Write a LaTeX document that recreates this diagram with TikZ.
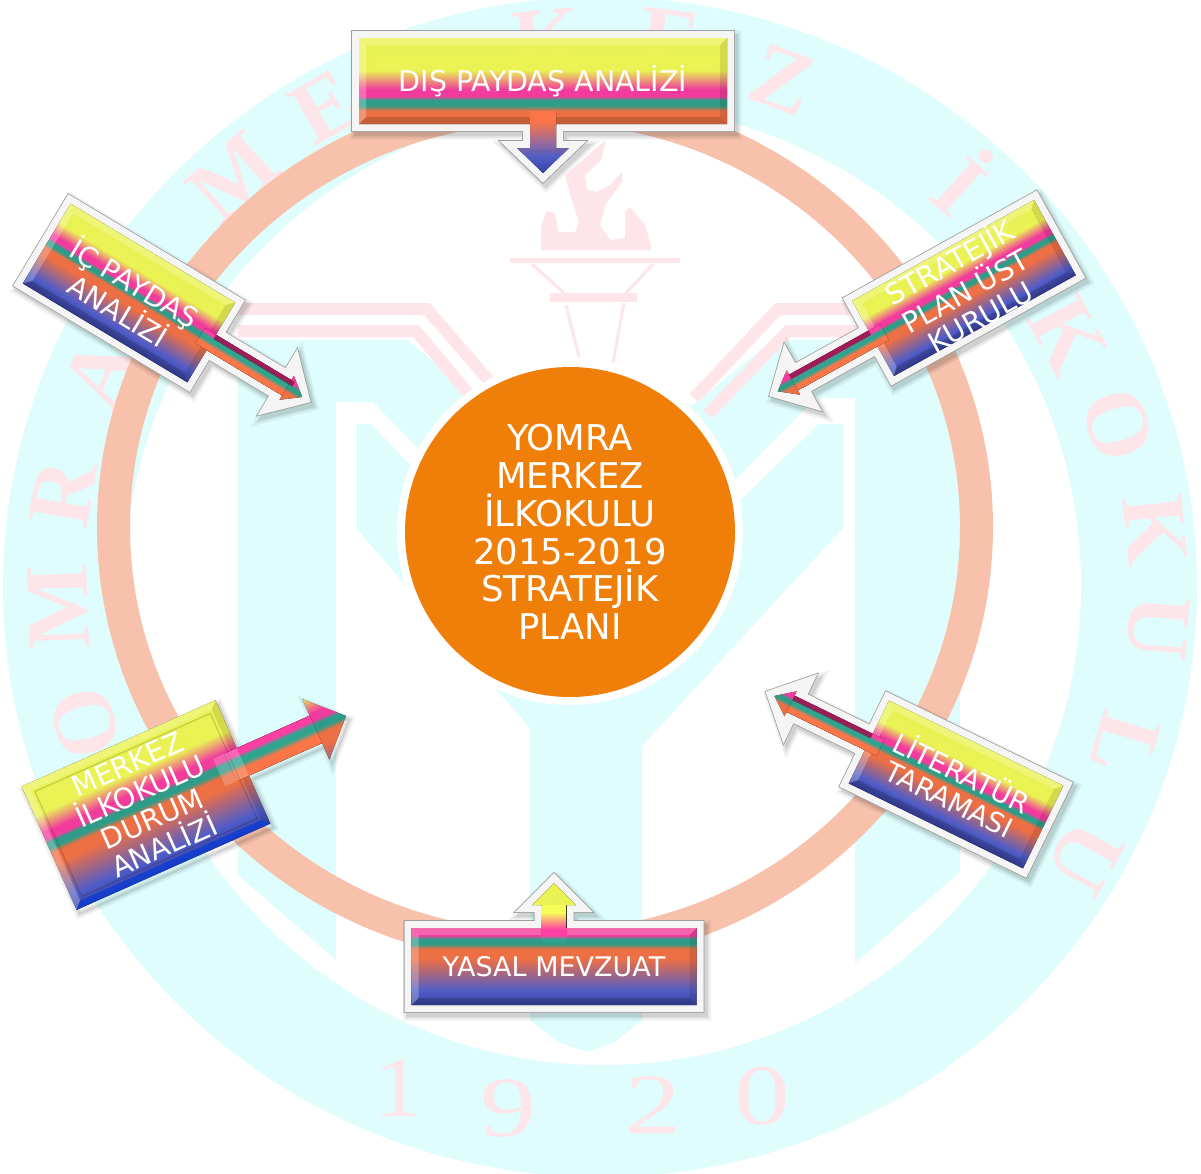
\documentclass[tikz,border=0pt]{standalone}
\usepackage{fontspec}
\usepackage{graphicx}
\setmainfont{DejaVu Sans}
\newfontfamily\wmfont{Liberation Serif}
\definecolor{wcyan}{HTML}{DFFDFD}
\definecolor{wpink}{HTML}{FDE5E9}
\definecolor{ringc}{HTML}{F7C1AB}
\definecolor{orangec}{HTML}{F07F09}
\definecolor{gyel}{HTML}{F6FF58}
\definecolor{gpink}{HTML}{FF3EA4}
\definecolor{gteal}{HTML}{2FA590}
\definecolor{gorange}{HTML}{FA7548}
\definecolor{gblue}{HTML}{5562D2}
\definecolor{gblued}{HTML}{3A46A8}
\pgfdeclareverticalshading{rainbow}{100bp}{
 color(0bp)=(gblued); color(25bp)=(gblued); color(31bp)=(gblue);
 color(44bp)=(gorange); color(48bp)=(gorange); color(50bp)=(gteal);
 color(52bp)=(gteal); color(53.5bp)=(gpink); color(56bp)=(gpink);
 color(63bp)=(gyel); color(100bp)=(gyel)}
\tikzset{
 signtext/.style={text=white,align=center,inner sep=0pt},
 wmletter/.style={text=wpink,inner sep=0pt,font=\wmfont\bfseries\fontsize{90}{90}\selectfont},
 wmdigit/.style={text=wpink,inner sep=0pt,font=\wmfont\fontsize{86}{86}\selectfont},
 wmband/.style={draw=wpink,line width=12pt,miter limit=6},
 wmthin/.style={draw=wpink,line width=3pt},
 facefill/.style={shading=rainbow,shading angle=0},
 shaftdark/.style={fill=purple!45!black,opacity=.55},
}
% horizontal callout: half width, half height, side, arrow length, head length, head half width, shaft half width
\newcommand\setH[7]{%
 \def\calloutpath{({-(#3)*(#1)},{-(#2)}) -- ({(#3)*(#1)},{-(#2)}) -- ({(#3)*(#1)},{-(#7)})
  -- ({(#3)*(#1+#4-#5)},{-(#7)}) -- ({(#3)*(#1+#4-#5)},{-(#6)}) -- ({(#3)*(#1+#4)},0)
  -- ({(#3)*(#1+#4-#5)},{#6}) -- ({(#3)*(#1+#4-#5)},{#7}) -- ({(#3)*(#1)},{#7})
  -- ({(#3)*(#1)},{#2}) -- ({-(#3)*(#1)},{#2}) -- cycle}%
 \def\shaftpath{({(#3)*(#1-13)},{-(#7)}) rectangle ({(#3)*(#1+#4-#5)},{#7})}%
 \def\hw{#1}\def\hh{#2}}
% vertical callout
\newcommand\setV[7]{%
 \def\calloutpath{({-(#1)},{-(#3)*(#2)}) -- ({#1},{-(#3)*(#2)}) -- ({#1},{(#3)*(#2)})
  -- ({#7},{(#3)*(#2)}) -- ({#7},{(#3)*(#2+#4-#5)}) -- ({#6},{(#3)*(#2+#4-#5)}) -- (0,{(#3)*(#2+#4)})
  -- ({-(#6)},{(#3)*(#2+#4-#5)}) -- ({-(#7)},{(#3)*(#2+#4-#5)}) -- ({-(#7)},{(#3)*(#2)})
  -- ({-(#1)},{(#3)*(#2)}) -- cycle}%
 \def\shaftpath{({-(#7)},{(#3)*(#2-13)}) rectangle ({#7},{(#3)*(#2+#4-#5)})}%
 \def\hw{#1}\def\hh{#2}}
% frame and shadow of the current callout: frame half width, angle
\newcommand\drawframe[2]{%
 \pgfmathsetmacro\su{3*cos(#2)-4*sin(#2)}%
 \pgfmathsetmacro\sv{3*sin(#2)+4*cos(#2)}%
 \begin{scope}[shift={(\su,\sv)},miter limit=12]
  \draw[black,opacity=.05,line width={2*(#1)+9pt}] \calloutpath;
  \draw[black,opacity=.06,line width={2*(#1)+5pt}] \calloutpath;
  \draw[black,opacity=.08,line width={2*(#1)+2pt}] \calloutpath;
 \end{scope}
 \ifdim #1pt>0pt
  \draw[black!38,line width={2*(#1)+1.6pt},miter limit=12] \calloutpath;
  \draw[white!96!black,line width={2*(#1)},miter limit=12] \calloutpath;
 \fi
}
% coloured face of the current callout
\newcommand\drawface{%
 \fill[facefill,fill opacity=.95] \calloutpath;
 \pgfmathsetmacro\bw{\hw-7}\pgfmathsetmacro\bh{\hh-7}%
 \fill[white,opacity=.2] (-\hw,-\hh) -- (\hw,-\hh) -- (\bw,-\bh) -- (-\bw,-\bh) -- cycle;
 \fill[white,opacity=.25] (-\hw,-\hh) -- (-\bw,-\bh) -- (-\bw,\bh) -- (-\hw,\hh) -- cycle;
 \fill[black,opacity=.1] (\hw,-\hh) -- (\bw,-\bh) -- (\bw,\bh) -- (\hw,\hh) -- cycle;
 \fill[black,opacity=.16] (-\hw,\hh) -- (-\bw,\bh) -- (\bw,\bh) -- (\hw,\hh) -- cycle;
 \begin{scope}
  \clip \shaftpath;
  \fill[facefill] \calloutpath;
 \end{scope}
}
\newcommand\wmletter[4]{%
 \pgfmathsetmacro\wmrot{-atan2((#2)-600,587-(#3))}%
 \node[wmletter,rotate=\wmrot] (#1) at (#2,#3) {#4};}
\begin{document}
\begin{tikzpicture}[x=1pt,y=-1pt]
\useasboundingbox (0,0) rectangle (1201,1173);
\fill[white] (0,0) rectangle (1201,1173);
% watermark
\fill[wcyan] (600,587) ellipse [x radius=597,y radius=590];
\fill[white] (603,585) ellipse [x radius=478,y radius=480];
% letters round the ring
\wmletter{wa}{85}{723}{O}
\wmletter{wb}{58}{607}{M}
\wmletter{wc}{63}{493}{R}
\wmletter{wd}{100}{373}{A}
\wmletter{we}{233}{177}{M}
\wmletter{wf}{325}{107}{E}
\wmletter{wg}{548}{40}{K}
\wmletter{wh}{670}{40}{E}
\wmletter{wi}{783}{80}{Z}
\wmletter{wj}{965}{180}{İ}
\wmletter{wk}{1068}{335}{K}
\wmletter{wl}{1118}{425}{O}
\wmletter{wm}{1155}{530}{K}
\wmletter{wn}{1158}{628}{U}
\wmletter{wo}{1125}{745}{L}
\wmletter{wp}{1085}{858}{U}
% 1920
\node[wmdigit] (d1) at (398,1088) {\scalebox{1.15}[1]{1}};
\node[wmdigit] (d2) at (508,1108) {\scalebox{1.3}[1]{9}};
\node[wmdigit] (d3) at (653,1105) {\scalebox{1.3}[1]{2}};
\node[wmdigit] (d4) at (762,1096) {\scalebox{1.3}[1]{0}};
% big M and Y
\fill[wcyan] (238,340) -- (407,340) -- (486,405) -- (693,405) -- (773,340) -- (960,340)
 -- (960,872) -- (855,963) -- (855,398) -- (816,398) -- (590,625) -- (373,402) -- (336,402)
 -- (336,960) -- (238,875) -- cycle;
\fill[wcyan] (356,424) -- (371,424) -- (586,650) -- (819,424) -- (843,424) -- (843,528)
 -- (642,746) -- (642,1020) -- (615,1042) -- (587,1052) -- (558,1042) -- (530,1020) -- (530,728) -- (356,528) -- cycle;
% chevrons
\draw[wmband] (238,309) -- (427,309) -- (490,382);
\draw[wmband] (238,331) -- (416,331) -- (472,398);
\draw[wmband] (870,309) -- (778,309) -- (694,398);
\draw[wmband] (870,331) -- (788,331) -- (708,414);
% torch
\fill[wpink] (541,250) -- (541,226) -- (547,211) -- (555,213) -- (558,232) -- (575,232) -- (579,222)
 -- (570,195) -- (565,175) -- (585,158) -- (600,145) -- (606,140) -- (601,160) -- (585,175) -- (587,190)
 -- (597,192) -- (610,185) -- (622,172) -- (622,182) -- (605,205) -- (600,225) -- (610,240) -- (625,238)
 -- (625,212) -- (630,207) -- (645,225) -- (651,245) -- (651,250) -- cycle;
\fill[wpink] (510,258) rectangle (680,263);
\fill[wpink] (550,293) rectangle (637,302);
\draw[wmthin] (532,264) -- (564,293);
\draw[wmthin] (653,264) -- (626,293);
\draw[wmthin] (566,305) -- (579,357);
\draw[wmthin] (624,303) -- (613,363);
% salmon ring
\draw[ringc,line width=33pt] (545,527) ellipse [x radius=431.5,y radius=420.5];
% centre
\node[circle,fill=white,minimum size=346pt,inner sep=0pt] (halo) at (570,532) {};
\node[circle,fill=orangec,minimum size=330pt,inner sep=0pt,text=white,align=center,
 font=\fontsize{35.5}{37.8}\selectfont] (plan) at (570,532) {YOMRA\\MERKEZ\\İLKOKULU\\2015-2019\\STRATEJİK\\PLANI};
% DIS PAYDAS
\begin{scope}[transform canvas={shift={(543,81)}}]
 \setV{184}{43}{1}{49}{25}{26}{13}
 \drawframe{7}{0}
 \drawface
 \node[signtext,font=\fontsize{28.5}{30}\selectfont] (dis) at (0,0) {DIŞ PAYDAŞ ANALİZİ};
\end{scope}
% YASAL
\begin{scope}[transform canvas={shift={(554,966.5)}}]
 \setV{142.5}{38.5}{-1}{45}{22}{22}{12.5}
 \drawframe{7}{0}
 \drawface
 \node[signtext,font=\fontsize{27}{28}\selectfont] (yasal) at (0,0) {YASAL MEVZUAT};
\end{scope}
% IC PAYDAS
\begin{scope}[transform canvas={shift={(129,293)},rotate=-31}]
 \setH{96}{46.5}{1}{106}{22}{22}{9}
 \drawframe{7}{-31}
 \setH{96}{46.5}{1}{106}{18}{14}{9}
 \drawface
 \fill[shaftdark] (96,-9) rectangle (188,-4);
 \node[signtext,font=\fontsize{28}{32}\selectfont] (ic) at (0,3) {İÇ PAYDAŞ\\ANALİZİ};
\end{scope}
% STRATEJIK
\begin{scope}[transform canvas={shift={(964,288)},rotate=29}]
 \setH{104}{43}{-1}{109}{22}{22}{9}
 \drawframe{7}{29}
 \setH{104}{43}{-1}{109}{18}{14}{9}
 \drawface
 \fill[shaftdark] (-104,-9) rectangle (-195,-4);
 \node[signtext,font=\fontsize{28.5}{30}\selectfont] (ust) at (0,0) {STRATEJİK\\PLAN ÜST\\KURULU};
\end{scope}
% LITERATUR
\begin{scope}[transform canvas={shift={(956,784.5)},rotate=-26}]
 \setH{97}{46}{-1}{105}{22}{22}{9}
 \drawframe{7}{-26}
 \setH{97}{46}{-1}{105}{18}{14}{9}
 \drawface
 \fill[shaftdark] (-97,-9) rectangle (-184,-4);
 \node[signtext,font=\fontsize{27.5}{29}\selectfont] (lit) at (0,0) {LİTERATÜR\\TARAMASI};
\end{scope}
% MERKEZ
\begin{scope}[transform canvas={shift={(146,805)},rotate=24}]
 \setH{106}{67.5}{1}{113}{33}{33}{15}
 \drawframe{0}{24}
 \drawface
 \fill[blue!75!cyan,opacity=.55] (-106,67.5) -- (-99,60.5) -- (99,60.5) -- (106,67.5) -- cycle;
 \draw[black,opacity=.16,line width=1.2pt] (-96,-57.5) rectangle (96,57.5);
 \fill[white,opacity=.2] (80,-15) rectangle (106,15);
 \node[signtext,font=\fontsize{28.5}{30}\selectfont] (mrk) at (0,0) {MERKEZ\\İLKOKULU\\DURUM\\ANALİZİ};
\end{scope}
\end{tikzpicture}
\end{document}
